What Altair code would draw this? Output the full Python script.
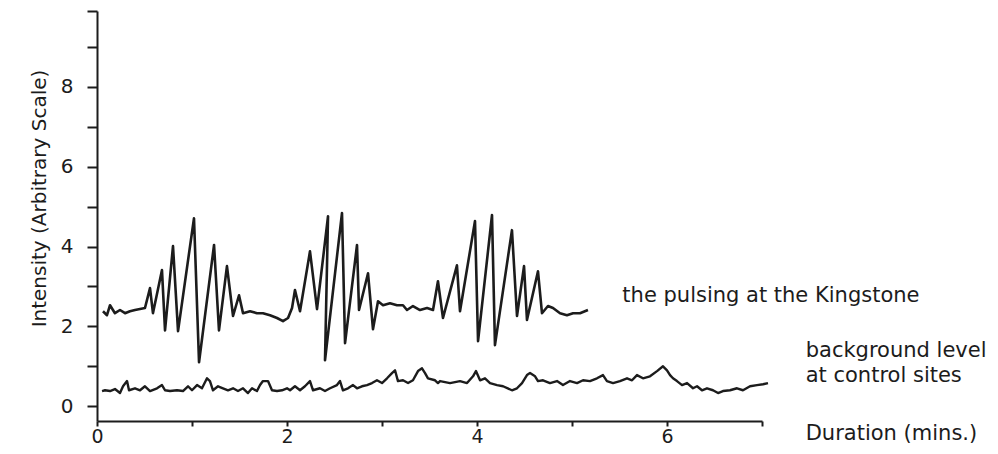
import altair as alt
import pandas as pd

# Pulsing at the Kingstone (time in mins, intensity)
pulse_t = [0.063, 0.105, 0.137, 0.189, 0.242, 0.295, 0.347, 0.40, 0.505, 0.558, 0.589, 0.684, 0.716, 0.80, 0.853,
           1.021, 1.074, 1.232, 1.284, 1.368, 1.432, 1.495, 1.537, 1.611, 1.684, 1.747, 1.821, 1.895, 1.958, 2.011,
           2.053, 2.084, 2.137, 2.242, 2.316, 2.432, 2.40, 2.579, 2.611, 2.737, 2.758, 2.853, 2.905, 2.958, 3.011,
           3.084, 3.158, 3.221, 3.263, 3.326, 3.40, 3.474, 3.537, 3.589, 3.642, 3.789, 3.821, 3.979, 4.011, 4.158,
           4.189, 4.368, 4.421, 4.495, 4.526, 4.642, 4.684, 4.747, 4.80, 4.874, 4.947, 5.011, 5.084, 5.168]
pulse_v = [2.38, 2.28, 2.53, 2.33, 2.41, 2.33, 2.38, 2.41, 2.46, 2.96, 2.33, 3.41, 1.90, 4.01, 1.88,
           4.71, 1.10, 4.04, 1.90, 3.51, 2.26, 2.78, 2.33, 2.38, 2.33, 2.33, 2.28, 2.21, 2.13, 2.21,
           2.46, 2.91, 2.38, 3.88, 2.43, 4.76, 1.15, 4.84, 1.58, 4.04, 2.41, 3.33, 1.93, 2.63, 2.53,
           2.58, 2.53, 2.53, 2.41, 2.51, 2.41, 2.46, 2.41, 3.13, 2.21, 3.53, 2.38, 4.64, 1.63, 4.79,
           1.53, 4.41, 2.26, 3.51, 2.16, 3.38, 2.33, 2.51, 2.46, 2.33, 2.28, 2.33, 2.33, 2.41]

# Background level at control sites
bg_t = [0.053, 0.084, 0.137, 0.189, 0.242, 0.274, 0.316, 0.337, 0.40, 0.453, 0.505, 0.558, 0.632, 0.684, 0.716,
        0.768, 0.842, 0.905, 0.958, 1.0, 1.053, 1.105, 1.158, 1.189, 1.221, 1.274, 1.326, 1.379, 1.432, 1.484,
        1.537, 1.589, 1.632, 1.684, 1.716, 1.747, 1.80, 1.842, 1.895, 1.947, 2.0, 2.032, 2.084, 2.137, 2.189,
        2.242, 2.274, 2.347, 2.40, 2.453, 2.526, 2.558, 2.589, 2.642, 2.695, 2.737, 2.789, 2.842, 2.895, 2.947,
        3.0, 3.053, 3.105, 3.137, 3.168, 3.221, 3.274, 3.326, 3.379, 3.421, 3.453, 3.484, 3.558, 3.589, 3.611,
        3.716, 3.821, 3.895, 3.958, 3.989, 4.032, 4.084, 4.137, 4.211, 4.274, 4.368, 4.421, 4.474, 4.526, 4.558,
        4.611, 4.642, 4.695, 4.768, 4.842, 4.905, 4.979, 5.053, 5.116, 5.189, 5.263, 5.326, 5.368, 5.432, 5.505,
        5.579, 5.632, 5.684, 5.747, 5.821, 5.895, 5.958, 6.0, 6.032, 6.063, 6.105, 6.158, 6.211, 6.274, 6.316,
        6.368, 6.421, 6.484, 6.537, 6.589, 6.663, 6.737, 6.80, 6.874, 6.947, 7.011, 7.063]
bg_v = [0.38, 0.40, 0.38, 0.43, 0.33, 0.50, 0.63, 0.40, 0.45, 0.40, 0.50, 0.38, 0.45, 0.53, 0.40,
        0.38, 0.40, 0.38, 0.50, 0.40, 0.53, 0.45, 0.70, 0.63, 0.40, 0.50, 0.45, 0.40, 0.45, 0.38,
        0.45, 0.33, 0.45, 0.38, 0.53, 0.63, 0.63, 0.40, 0.38, 0.40, 0.45, 0.40, 0.50, 0.40, 0.50,
        0.63, 0.40, 0.45, 0.38, 0.45, 0.53, 0.63, 0.40, 0.45, 0.53, 0.45, 0.50, 0.53, 0.58, 0.65,
        0.58, 0.70, 0.83, 0.90, 0.63, 0.65, 0.58, 0.65, 0.88, 0.95, 0.83, 0.70, 0.65, 0.58, 0.63,
        0.58, 0.63, 0.58, 0.75, 0.88, 0.65, 0.70, 0.58, 0.53, 0.50, 0.40, 0.45, 0.58, 0.78, 0.83,
        0.75, 0.63, 0.65, 0.58, 0.63, 0.53, 0.63, 0.58, 0.65, 0.63, 0.70, 0.78, 0.63, 0.58, 0.63,
        0.70, 0.65, 0.78, 0.70, 0.75, 0.88, 1.00, 0.90, 0.78, 0.70, 0.63, 0.53, 0.58, 0.45, 0.50,
        0.40, 0.45, 0.40, 0.33, 0.38, 0.40, 0.45, 0.40, 0.50, 0.53, 0.55, 0.58]

# Annotations
note_text = ["the pulsing at the Kingstone", "background level", "at control sites", "Duration  (mins.)"]
note_x = [5.53, 7.46, 7.46, 7.46]
note_y = [2.76, 1.38, 0.75, -0.70]

x_ticks = [0, 1, 2, 3, 4, 5, 6, 7]
y_ticks = [0, 1, 2, 3, 4, 5, 6, 7, 8, 9, 9.9]

FONT = "DejaVu Sans"
INK = "#1c1c1c"

pulse = pd.DataFrame({"t": pulse_t, "v": pulse_v, "i": list(range(len(pulse_t)))})
bg = pd.DataFrame({"t": bg_t, "v": bg_v, "i": list(range(len(bg_t)))})
notes = pd.DataFrame({"text": note_text, "x": note_x, "y": note_y})

xscale = alt.Scale(domain=[0, 7], nice=False, zero=False)
yscale = alt.Scale(domain=[-0.37, 9.9], nice=False, zero=False)

xaxis = alt.Axis(values=x_ticks, labelExpr="datum.value % 2 == 0 ? format(datum.value, 'd') : ''",
                 title=None, grid=False, domainColor=INK, domainWidth=2, tickColor=INK,
                 tickWidth=2, tickSize=5, labelFontSize=19, labelFont=FONT, labelColor=INK,
                 labelPadding=1, labelFlush=False)
yaxis = alt.Axis(values=y_ticks, labelExpr="datum.value % 2 == 0 ? format(datum.value, 'd') : ''",
                 title="Intensity (Arbitrary Scale)", grid=False, domainColor=INK, domainWidth=2,
                 tickColor=INK, tickWidth=2, tickSize=10, labelFontSize=20, labelFont=FONT,
                 labelColor=INK, labelPadding=14, labelFlush=False,
                 titleFont=FONT, titleFontSize=20, titleFontWeight="normal", titleColor=INK,
                 titleAngle=-90, titleX=-58, titleY=187, titleAlign="center", titleBaseline="middle")

pulse_line = alt.Chart(pulse).mark_line(color=INK, strokeWidth=2.6, strokeJoin="round").encode(
    x=alt.X("t:Q", scale=xscale, axis=xaxis),
    y=alt.Y("v:Q", scale=yscale, axis=yaxis),
    order="i:Q",
)
bg_line = alt.Chart(bg).mark_line(color=INK, strokeWidth=2.4, strokeJoin="round").encode(
    x=alt.X("t:Q", scale=xscale),
    y=alt.Y("v:Q", scale=yscale),
    order="i:Q",
)
labels = alt.Chart(notes).mark_text(align="left", baseline="middle", font=FONT, fontSize=21,
                                    color=INK).encode(
    x=alt.X("x:Q", scale=xscale),
    y=alt.Y("y:Q", scale=yscale),
    text="text:N",
)

chart = alt.layer(pulse_line, bg_line, labels).properties(
    width=665, height=410,
    autosize=alt.AutoSizeParams(type="none"),
    padding={"left": 89, "top": 3, "right": 228, "bottom": 25},
    background="white",
).configure_view(stroke=None)

chart.save("out.html", embed_options={"renderer": "svg", "actions": False})
